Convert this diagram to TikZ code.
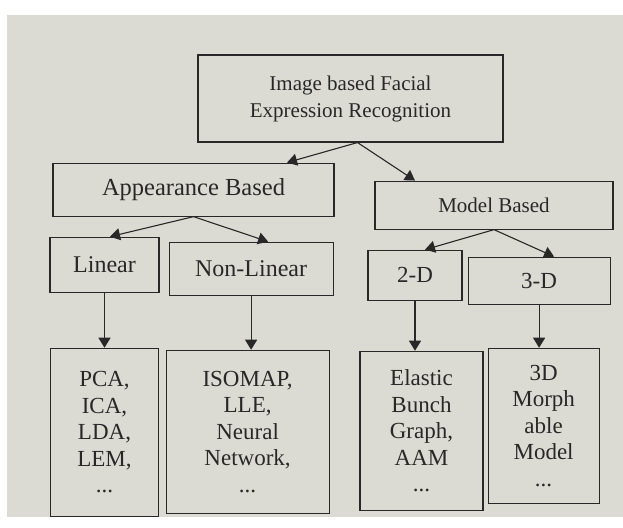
\documentclass[tikz,border=0pt]{standalone}
\usepackage{fontspec}
\setmainfont{Liberation Serif}
\usetikzlibrary{positioning}
\usetikzlibrary{arrows.meta}

\definecolor{paper}{RGB}{219,219,212}
\definecolor{ink}{RGB}{40,40,40}

\begin{document}
\begin{tikzpicture}[x=1pt, y=1pt, align=center, color=ink, font=\fontsize{23}{26.5}\selectfont, catnode/.style={rectangle,draw=ink,line width=1.1pt,inner sep=0pt}, >={Triangle[length=10pt,width=12pt]}]
	\useasboundingbox (0,0) rectangle (623,527);
	\fill[paper] (7,10) rectangle (623,512);
	\node[catnode, minimum width=305pt, minimum height=87pt, font=\fontsize{21}{27}\selectfont] (fer) at (350.5,428.5) {Image based Facial\\Expression Recognition};
	\node[catnode, minimum width=281pt, minimum height=53pt, font=\fontsize{24.5}{27}\selectfont] (appearance) [below = 20pt of fer, xshift=-157pt] {Appearance Based};
	\node[catnode, minimum width=238pt, minimum height=48pt, font=\fontsize{21}{27}\selectfont] (model) [below = 38pt of fer, xshift=143.5pt] {Model Based};
	\node[catnode, minimum width=109pt, minimum height=55pt, font=\fontsize{24}{27}\selectfont] (linear) [below = 20pt of appearance, xshift=-89pt] {Linear};
	\node[catnode, minimum width=164pt, minimum height=53pt, font=\fontsize{24}{27}\selectfont] (nonlinear) [right = 9pt of linear, yshift=-4pt] {Non-Linear};
	\node[catnode, minimum width=94pt, minimum height=50pt] (twod) [below = 20pt of model, xshift=-79pt] {2-D};
	\node[catnode, minimum width=142pt, minimum height=47pt] (threed) [right = 5pt of twod, yshift=-5.5pt] {3-D};
	\node[catnode, minimum width=108pt, minimum height=168pt] (linmethods) [below = 55pt of linear] {PCA,\\ICA,\\LDA,\\LEM,\\...};
	\node[catnode, minimum width=163pt, minimum height=163pt] (nonlinmethods) [below = 54pt of nonlinear, xshift=-3.5pt] {ISOMAP,\\LLE,\\Neural\\Network,\\...};
	\node[catnode, minimum width=123pt, minimum height=159pt] (twodmethods) [below = 50pt of twod, xshift=6.5pt] {Elastic\\Bunch\\Graph,\\AAM\\...};
	\node[catnode, minimum width=111pt, minimum height=155pt] (threedmethods) [below = 43pt of threed, xshift=4.5pt] {3D\\Morph\\able\\Model\\...};
	\draw[line width=1.1pt,->] ([xshift=7pt]fer.south) -- ([xshift=93.5pt]appearance.north);
	\draw[line width=1.1pt,->] ([xshift=7pt]fer.south) -- ([xshift=-79pt]model.north);
	\draw[line width=1.1pt,->] (appearance.south) -- ([xshift=5.5pt]linear.north);
	\draw[line width=1.1pt,->] (appearance.south) -- ([xshift=17pt]nonlinear.north);
	\draw[line width=1.1pt,->] (model.south) -- ([xshift=10pt]twod.north);
	\draw[line width=1.1pt,->] (model.south) -- ([xshift=15pt]threed.north);
	\draw[line width=1.1pt,->] (linear.south) -- (linear.south |- linmethods.north);
	\draw[line width=1.1pt,->] (nonlinear.south) -- (nonlinear.south |- nonlinmethods.north);
	\draw[line width=1.1pt,->] (twod.south) -- (twod.south |- twodmethods.north);
	\draw[line width=1.1pt,->] (threed.south) -- (threed.south |- threedmethods.north);
\end{tikzpicture}
\end{document}
